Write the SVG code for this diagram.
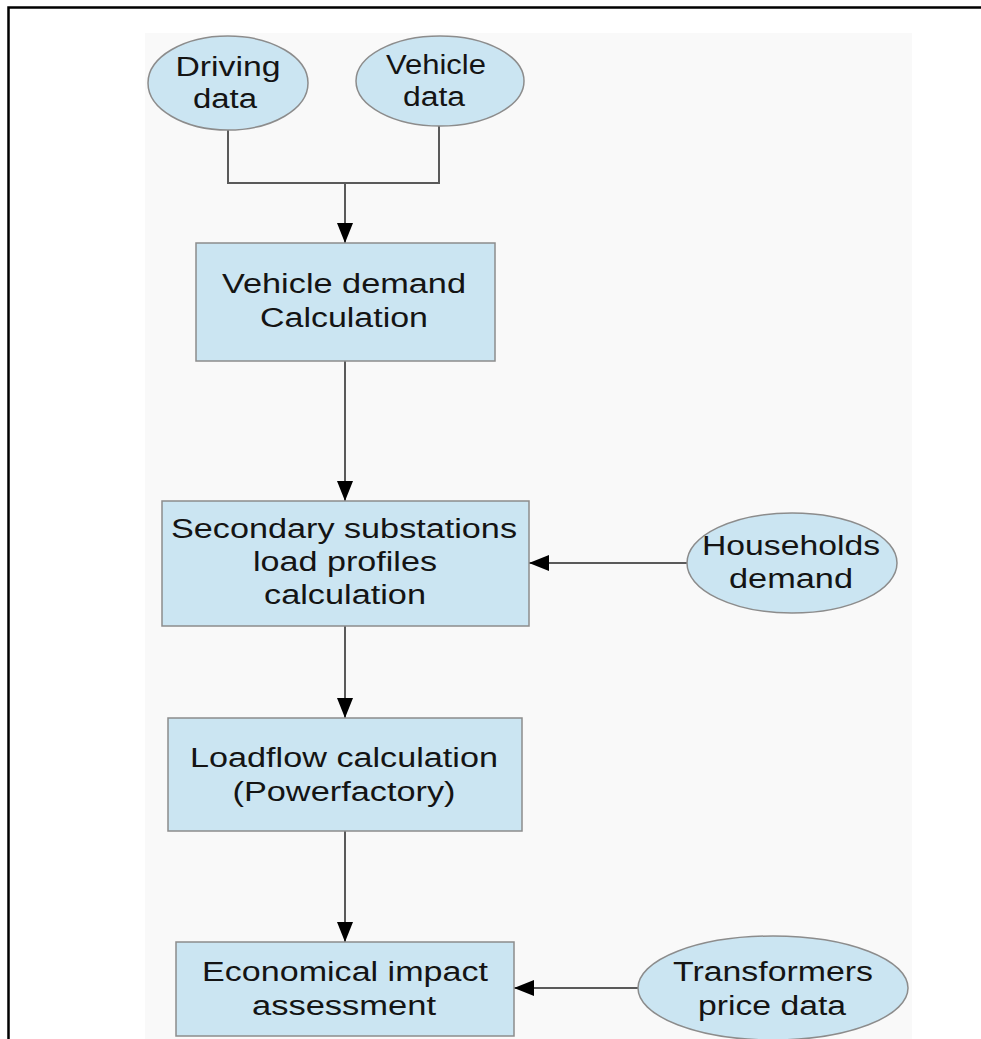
<svg xmlns="http://www.w3.org/2000/svg" width="981" height="1039" viewBox="0 0 981 1039">
<style>
.node{fill:#cbe5f2;stroke:#8c8c8c;stroke-width:1.5}
.lbl{font-family:"Liberation Sans",Arial,sans-serif;font-size:27px;fill:#141414}
.conn{fill:none;stroke:#5a5a5a;stroke-width:2}
</style>
<defs>
<marker id="arr" viewBox="0 0 20 16" refX="20" refY="8" markerWidth="20" markerHeight="16" markerUnits="userSpaceOnUse" orient="auto">
<path d="M0,0 L20,8 L0,16 Z" fill="#000"/>
</marker>
</defs>
<rect x="0" y="0" width="981" height="1039" fill="#ffffff"/>
<rect x="145" y="33" width="767" height="1006" fill="#f9f9f9"/>
<path d="M8.5,1039 V7.5 H981" fill="none" stroke="#000" stroke-width="2.5"/>

<g id="connectors">
<path class="conn" d="M228,130 V183 H439 V126"/>
<path class="conn" d="M345,183 V243" marker-end="url(#arr)"/>
<path class="conn" d="M345,361 V501" marker-end="url(#arr)"/>
<path class="conn" d="M687,563 H529" marker-end="url(#arr)"/>
<path class="conn" d="M345,626 V718" marker-end="url(#arr)"/>
<path class="conn" d="M345,831 V942" marker-end="url(#arr)"/>
<path class="conn" d="M638,988 H514" marker-end="url(#arr)"/>
</g>

<g id="driving-data">
<ellipse class="node" cx="228" cy="83" rx="80" ry="47"/>
<text class="lbl" x="228" y="76" text-anchor="middle" textLength="105" lengthAdjust="spacingAndGlyphs">Driving</text>
<text class="lbl" x="225" y="108" text-anchor="middle" textLength="64" lengthAdjust="spacingAndGlyphs">data</text>
</g>

<g id="vehicle-data">
<ellipse class="node" cx="440" cy="81" rx="84" ry="45"/>
<text class="lbl" x="436" y="74" text-anchor="middle" textLength="100" lengthAdjust="spacingAndGlyphs">Vehicle</text>
<text class="lbl" x="434" y="106" text-anchor="middle" textLength="62" lengthAdjust="spacingAndGlyphs">data</text>
</g>

<g id="vehicle-demand">
<rect class="node" x="196" y="243" width="299" height="118"/>
<text class="lbl" x="344" y="293" text-anchor="middle" textLength="244" lengthAdjust="spacingAndGlyphs">Vehicle demand</text>
<text class="lbl" x="344" y="327" text-anchor="middle" textLength="168" lengthAdjust="spacingAndGlyphs">Calculation</text>
</g>

<g id="secondary-substations">
<rect class="node" x="162" y="501" width="367" height="125"/>
<text class="lbl" x="344" y="538" text-anchor="middle" textLength="346" lengthAdjust="spacingAndGlyphs">Secondary substations</text>
<text class="lbl" x="345" y="571" text-anchor="middle" textLength="184" lengthAdjust="spacingAndGlyphs">load profiles</text>
<text class="lbl" x="345" y="604" text-anchor="middle" textLength="162" lengthAdjust="spacingAndGlyphs">calculation</text>
</g>

<g id="households-demand">
<ellipse class="node" cx="792" cy="563" rx="105" ry="50"/>
<text class="lbl" x="791" y="555" text-anchor="middle" textLength="178" lengthAdjust="spacingAndGlyphs">Households</text>
<text class="lbl" x="791" y="588" text-anchor="middle" textLength="124" lengthAdjust="spacingAndGlyphs">demand</text>
</g>

<g id="loadflow">
<rect class="node" x="168" y="718" width="354" height="113"/>
<text class="lbl" x="344" y="767" text-anchor="middle" textLength="308" lengthAdjust="spacingAndGlyphs">Loadflow calculation</text>
<text class="lbl" x="344" y="801" text-anchor="middle" textLength="223" lengthAdjust="spacingAndGlyphs">(Powerfactory)</text>
</g>

<g id="economical-impact">
<rect class="node" x="176" y="942" width="338" height="94"/>
<text class="lbl" x="345" y="981" text-anchor="middle" textLength="286" lengthAdjust="spacingAndGlyphs">Economical impact</text>
<text class="lbl" x="344" y="1015" text-anchor="middle" textLength="184" lengthAdjust="spacingAndGlyphs">assessment</text>
</g>

<g id="transformers-price">
<ellipse class="node" cx="773" cy="988" rx="135" ry="52"/>
<text class="lbl" x="773" y="981" text-anchor="middle" textLength="200" lengthAdjust="spacingAndGlyphs">Transformers</text>
<text class="lbl" x="772" y="1015" text-anchor="middle" textLength="148" lengthAdjust="spacingAndGlyphs">price data</text>
</g>
</svg>
